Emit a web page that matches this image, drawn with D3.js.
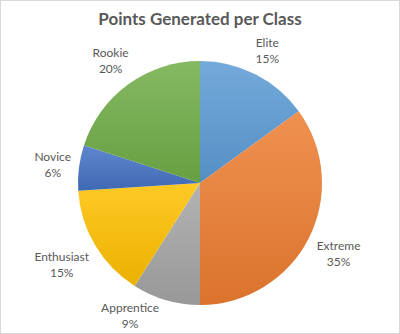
<!DOCTYPE html>
<html><head><meta charset="utf-8">
<script src="https://cdn.jsdelivr.net/npm/d3@7"></script>
<style>
html,body{margin:0;padding:0;background:#fff;}
svg{display:block;}
</style></head>
<body>
<svg id="chart" width="400" height="334"></svg>
<script>
const title = "Points Generated per Class";
const categories = ["Elite","Extreme","Apprentice","Enthusiast","Novice","Rookie"];
const values = [15,35,9,15,6,20];
const percentLabels = ["15%","35%","9%","15%","6%","20%"];
const colors = ["#5B9BD5","#ED7D31","#A5A5A5","#FFC000","#4472C4","#70AD47"];

const W = 400, H = 334;
const svg = d3.select("#chart");
svg.append("rect").attr("x",0.5).attr("y",0.5).attr("width",W-1).attr("height",H-1)
  .attr("fill","#fff").attr("stroke","#d9d9d9");

svg.append("text").attr("x",W/2).attr("y",25).attr("text-anchor","middle")
  .attr("font-family","Lato, 'Open Sans', sans-serif").attr("font-weight","bold")
  .attr("font-size",17).attr("fill","#595959").text(title);

const cx = 200, cy = 183, r = 122;
const defs = svg.append("defs");
colors.forEach((c,i)=>{
  const g = defs.append("linearGradient").attr("id","g"+i)
    .attr("x1",0).attr("y1",0).attr("x2",0).attr("y2",1);
  g.append("stop").attr("offset","0%").attr("stop-color",d3.interpolateRgb(c,"#fff")(0.15));
  g.append("stop").attr("offset","100%").attr("stop-color",d3.interpolateRgb(c,"#000")(0.08));
});

const pie = d3.pie().sort(null).value(d=>d)(values);
const arc = d3.arc().innerRadius(0).outerRadius(r);
const gp = svg.append("g").attr("transform",`translate(${cx},${cy})`);
gp.selectAll("path").data(pie).join("path")
  .attr("d",arc).attr("fill",(d,i)=>`url(#g${i})`);

const lg = gp.append("g").attr("font-family","Lato, 'Open Sans', sans-serif")
  .attr("font-size",12).attr("fill","#595959");
const gap = 7;
pie.forEach((d,i)=>{
  const t = lg.append("text").attr("text-anchor","middle");
  t.append("tspan").attr("x",0).attr("dy",0).text(categories[i]);
  t.append("tspan").attr("x",0).attr("dy",16).text(percentLabels[i]);
  const bb = t.node().getBBox();
  const a = (d.startAngle+d.endAngle)/2;
  const hw = bb.width/2, hh = bb.height/2;
  const near = (x,y)=>Math.hypot(Math.max(Math.abs(x)-hw,0), Math.max(Math.abs(y)-hh,0));
  let lo = 0, hi = 400;
  for (let k=0;k<50;k++){
    const m=(lo+hi)/2;
    if (near(Math.sin(a)*m, -Math.cos(a)*m) < r+gap) lo=m; else hi=m;
  }
  const dist = hi;
  let x = Math.sin(a)*dist, y = -Math.cos(a)*dist;
  const yMax = H - 3 - cy - hh, yMin = 34 - cy + hh;
  if (y > yMax || y < yMin){
    y = Math.max(yMin, Math.min(yMax, y));
    x = Math.sign(x) * Math.sqrt(Math.max(dist*dist - y*y, 0));
  }
  const bcy = bb.y + bb.height/2;
  t.attr("transform",`translate(${x},${y-bcy})`);
});
</script>
</body></html>
